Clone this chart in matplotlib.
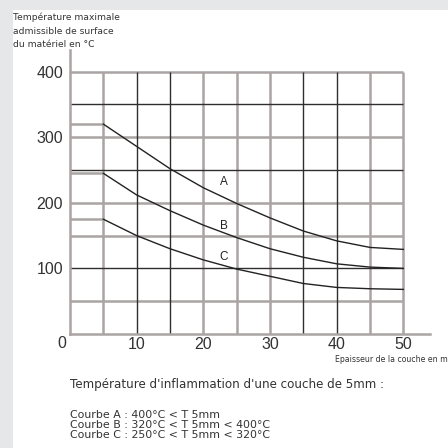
import matplotlib.pyplot as plt
from matplotlib.patches import Rectangle

plt.rcParams['font.family'] = ['Liberation Sans', 'DejaVu Sans']

# epaisseur de la couche (mm) et temperature max admissible (degC)
epaisseur = [0, 5, 10, 15, 20, 25, 30, 35, 40, 45, 50]
courbe_a = [320, 320, 286, 252, 223, 199, 177, 157, 142, 132, 129]
courbe_b = [245, 245, 212, 188, 166, 147, 130, 117, 107, 102, 100]
courbe_c = [175, 175, 150, 130, 113, 99, 88, 77, 71, 69, 68]
noms = ["A", "B", "C"]
pos_noms = [(23.1, 232), (23.1, 165), (23.1, 118)]

xticks = [10, 20, 30, 40, 50]
yticks = [100, 200, 300, 400]
grille_x_fonce = [10, 15, 35, 40]
grille_x_clair = [5, 20, 25, 30, 45, 50]
grille_y_fonce = [100, 250, 350]
grille_y_clair = [50, 150, 200, 300, 400]

titre = ["Température maximale", "admissible de surface", "du matériel en °C"]
legende = ["Courbe A : 400°C < T 5mm",
           "Courbe B : 320°C < T 5mm < 400°C",
           "Courbe C : 250°C < T 5mm < 320°C"]

W = 448.0
fig = plt.figure(figsize=(4.48, 4.48), dpi=100)
fig.patch.set_facecolor('#e6e7e9')
fig.add_artist(Rectangle((13 / W, 0), 1, (W - 10) / W, transform=fig.transFigure,
                         facecolor='white', edgecolor='none', zorder=0))

ax = fig.add_axes([70 / W, (W - 334) / W, 360 / W, 284 / W])
ax.set_facecolor('none')
ax.set_xlim(0, 54)
ax.set_ylim(0, 433)

clair = '#aaa4a4'
fonce = '#2e2e2e'
ax.vlines(grille_x_clair, 0, 400, color=clair, lw=1.8, zorder=1)
ax.hlines(grille_y_clair, 0, 50, color=clair, lw=1.8, zorder=1)
ax.vlines(grille_x_fonce, 0, 400, color=fonce, lw=1.0, zorder=2)
ax.hlines(grille_y_fonce, 0, 50, color=fonce, lw=1.0, zorder=2)

for y in [courbe_a, courbe_b, courbe_c]:
    ax.plot(epaisseur[:2], y[:2], color=clair, lw=1.8, zorder=3)
    ax.plot(epaisseur[1:], y[1:], color='#222222', lw=1.0, zorder=4)

for nom, (px, py) in zip(noms, pos_noms):
    ax.text(px, py, nom, fontsize=8.5, color='#222222', ha='center', va='center')

for s in ['top', 'right']:
    ax.spines[s].set_visible(False)
for s in ['left', 'bottom']:
    ax.spines[s].set_color(clair)
    ax.spines[s].set_linewidth(1.8)

ax.set_xticks(xticks)
ax.set_yticks(yticks)
ax.tick_params(axis='both', length=0, labelsize=11.5, labelcolor='#333333')
ax.tick_params(axis='x', pad=2)
ax.tick_params(axis='y', pad=5)
ax.text(-1.2, -14, "0", fontsize=11.5, color='#333333', ha='center', va='center')

dv = ['DejaVu Sans']
for i, t in enumerate(titre):
    fig.text(13 / W, 1 - (20 + 13.5 * i) / W, t, fontsize=6.6, color='#333333',
             va='baseline', family=dv)
fig.text(335 / W, 1 - 362 / W, "Epaisseur de la couche en mm", fontsize=5.6,
         color='#333333', va='baseline', family=dv)

fig.text(70 / W, 1 - 388 / W, "Température d'inflammation d'une couche de 5mm :",
         fontsize=8.6, color='#333333', va='baseline', family=dv)
for i, t in enumerate(legende):
    fig.text(70 / W, 1 - (418 + 10 * i) / W, t, fontsize=7.9, color='#333333',
             va='baseline', family=dv)

fig.savefig("out.png", dpi=100)
